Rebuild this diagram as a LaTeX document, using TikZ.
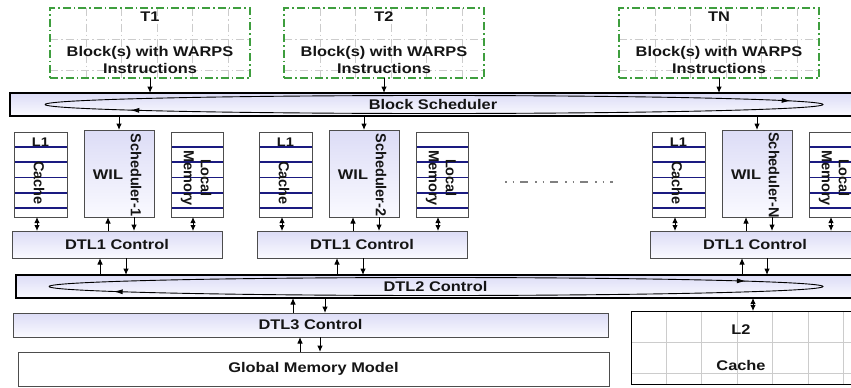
\documentclass[tikz,border=0pt]{standalone}
\usepackage{fontspec}
\setmainfont{Liberation Sans}[FakeStretch=1.17]
\newfontfamily\rotfont{Liberation Sans}
\usetikzlibrary{arrows.meta,decorations.markings,calc}
\definecolor{lav}{HTML}{DCDCF6}
\definecolor{lavw}{HTML}{FAFAFF}
\definecolor{bord}{HTML}{4D4D4D}
\definecolor{navyl}{HTML}{1A1A80}
\definecolor{gridc}{HTML}{CCCCCC}
\definecolor{tgreen}{HTML}{3E9E3E}
\definecolor{textc}{HTML}{151515}
\tikzset{
  box/.style={draw=bord, line width=1pt, inner sep=0pt, outer sep=0pt, anchor=north west, text=textc,
    font=\fontsize{14}{17}\selectfont\bfseries},
  shadebox/.style={box, top color=lav, bottom color=lavw},
  barbox/.style={box, draw=black, line width=1.1pt, top color=lav, bottom color=lavw},
  gridpic/.style={path picture={
      \foreach \k in {0,...,6} {\draw[gridc, line width=0.8pt] ($(path picture bounding box.north west)+(#1+\k*35.5,0)$) -- ++(0,120);}
      \foreach \yy in {31,62.5} {\draw[gridc, line width=0.8pt] ($(path picture bounding box.north west)+(0,\yy)$) -- ++(300,0);}
  }},
  tbox/.style={box, draw=tgreen, line width=1.1pt, dash pattern=on 8pt off 3pt on 1.5pt off 3pt, fill=white,
    minimum width=200pt, minimum height=70pt, gridpic=36},
  linedpic/.style={path picture={
      \foreach \yy in {15,30,45.5,61,76} {\draw[navyl, line width=1.2pt] ($(path picture bounding box.north west)+(0,\yy)$) -- ++(70,0);}
  }},
  cachebox/.style={box, fill=white, minimum width=53pt, minimum height=85pt, linedpic},
  lmbox/.style={box, fill=white, minimum width=52pt, minimum height=85pt, linedpic},
  lbl/.style={text=textc, inner sep=0pt, align=center, font=\fontsize{14}{17}\selectfont\bfseries},
  slbl/.style={lbl, font=\fontsize{12.5}{15}\selectfont\bfseries},
  rlbl/.style={text=textc, inner sep=0pt, align=center, rotate=-90, font=\rotfont\fontsize{14.5}{17}\selectfont\bfseries},
  arr/.style={-{Latex[length=6.5pt,width=5.5pt]}, line width=1pt, black},
  darr/.style={{Latex[length=6pt,width=5.5pt]}-{Latex[length=6pt,width=5.5pt]}, line width=1pt, black},
  loopline/.style={draw=black, line width=0.9pt, postaction={decorate}},
  midline/.style={draw=gray, line width=1.2pt, dash pattern=on 1.5pt off 6pt on 1.5pt off 6pt on 8pt off 7pt},
}
\begin{document}
\begin{tikzpicture}[x=1pt,y=-1pt]
\useasboundingbox (0,0) rectangle (851,388);
\clip (0,0) rectangle (851,388);

% thread blocks
\node[tbox] (t1) at (50,8) {};
\node[tbox] (t2) at (284,8) {};
\node[tbox] (tn) at (619,8) {};
\node[lbl] (t1h) at (150,17) {T1};
\node[lbl] (t1b) at (150,59.5) {Block(s) with WARPS\\Instructions};
\node[lbl] (t2h) at (384,17) {T2};
\node[lbl] (t2b) at (384,59.5) {Block(s) with WARPS\\Instructions};
\node[lbl] (tnh) at (719,17) {TN};
\node[lbl] (tnb) at (719,59.5) {Block(s) with WARPS\\Instructions};

% block scheduler bar
\node[barbox, minimum width=846pt, minimum height=23pt] (bs) at (10,93) {Block Scheduler};
\draw[loopline, decoration={markings,
    mark=at position 0.479 with {\arrow{Latex[length=9pt,width=5pt]}},
    mark=at position 0.945 with {\arrow{Latex[length=9pt,width=5pt]}}}]
  ($(bs.west)+(35,0)$) arc[start angle=180, end angle=-180, x radius=389pt, y radius=9pt];

\draw[arr] (t1.south) -- (t1.south |- bs.north);
\draw[arr] (t2.south) -- (t2.south |- bs.north);
\draw[arr] (tn.south) -- (tn.south |- bs.north);

% DTL2 bar
\node[barbox, minimum width=839pt, minimum height=23pt] (dtl2) at (16,275) {DTL2 Control};
\draw[loopline, decoration={markings,
    mark=at position 0.45 with {\arrow{Latex[length=9pt,width=5pt]}},
    mark=at position 0.958 with {\arrow{Latex[length=9pt,width=5pt]}}}]
  ($(dtl2.west)+(33,0)$) arc[start angle=180, end angle=-180, x radius=387pt, y radius=9pt];

% streaming multiprocessors
\foreach \g/\dx/\n/\ua/\da in {1/0/1/88/114, 2/245/2/80/106, 3/638/N/92/117} {
  \node[cachebox] (l1-\g) at (14+\dx,132) {};
  \node[shadebox, minimum width=70pt, minimum height=87pt] (wil-\g) at (84+\dx,130) {};
  \node[lmbox] (lm-\g) at (171+\dx,132) {};
  \node[shadebox, minimum width=210pt, minimum height=27pt] (dtl-\g) at (12+\dx,231) {DTL1 Control};
  \node[slbl] (l1t-\g) at (40.5+\dx,142) {L1};
  \node[rlbl] (l1c-\g) at (39+\dx,183) {Cache};
  \node[lbl] (wilt-\g) at (108+\dx,175) {WIL};
  \node[rlbl] (sch-\g) at (136+\dx,175) {Scheduler-\n};
  \node[rlbl] (lmt-\g) at (196+\dx,178) {Local\\Memory};
  \draw[arr] (bs.south -| wil-\g.north) -- (wil-\g.north);
  \draw[darr] ($(l1-\g.south west)+(23,0)$) -- ($(l1-\g.south west |- dtl-\g.north)+(23,0)$);
  \draw[arr] ($(wil-\g.south west |- dtl-\g.north)+(24,0)$) -- ($(wil-\g.south west)+(24,0)$);
  \draw[arr] ($(wil-\g.south west)+(50,0)$) -- ($(wil-\g.south west |- dtl-\g.north)+(50,0)$);
  \draw[darr] ($(lm-\g.south west)+(22,0)$) -- ($(lm-\g.south west |- dtl-\g.north)+(22,0)$);
  \draw[arr] ($(dtl-\g.south west |- dtl2.north)+(\ua,0)$) -- ($(dtl-\g.south west)+(\ua,0)$);
  \draw[arr] ($(dtl-\g.south west)+(\da,0)$) -- ($(dtl-\g.south west |- dtl2.north)+(\da,0)$);
}

\draw[midline] (505,182) -- (613,182);

% lower levels
\node[shadebox, minimum width=595pt, minimum height=24pt] (dtl3) at (13,313) {DTL3 Control};
\node[box, fill=white, minimum width=591pt, minimum height=34pt] (gmm) at (18,352) {Global Memory Model};
\node[box, draw=black, fill=white, minimum width=225pt, minimum height=73pt, gridpic=35] (l2) at (631,311) {};
\node[lbl] (l2t) at (741,330) {L2};
\node[lbl] (l2c) at (741,365) {Cache};

\draw[arr] ($(dtl3.north west)+(280,0)$) -- ($(dtl3.north west |- dtl2.south)+(280,0)$);
\draw[arr] ($(dtl3.north west |- dtl2.south)+(312,0)$) -- ($(dtl3.north west)+(312,0)$);
\draw[arr] ($(gmm.north west)+(282,0)$) -- ($(gmm.north west |- dtl3.south)+(282,0)$);
\draw[arr] ($(gmm.north west |- dtl3.south)+(302,0)$) -- ($(gmm.north west)+(302,0)$);
\draw[darr] ($(l2.north west |- dtl2.south)+(122,0)$) -- ($(l2.north west)+(122,0)$);
\end{tikzpicture}
\end{document}
